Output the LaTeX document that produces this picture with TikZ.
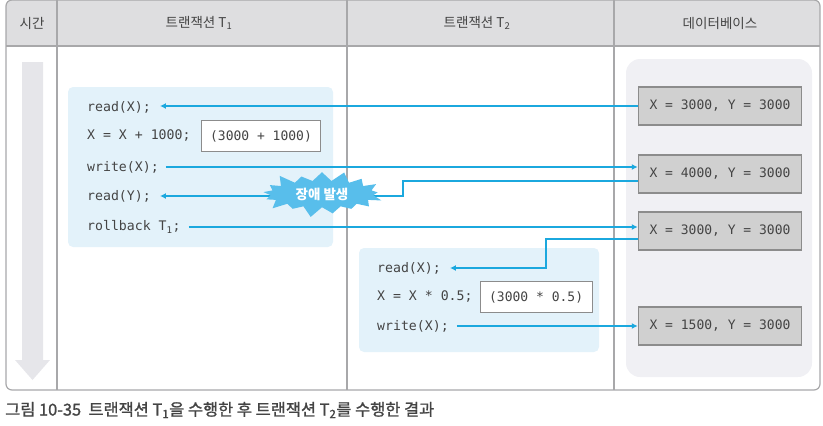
\documentclass[tikz,border=0pt]{standalone}
\usepackage{fontspec}
\setmainfont{Noto Sans CJK KR}
\newfontfamily\codefont{DejaVu Sans Mono}
\newfontfamily\capfont[FakeBold=1.2]{Noto Sans CJK KR}
\usetikzlibrary{arrows.meta,shapes.symbols,positioning}

\definecolor{flowblue}{RGB}{27,168,222}
\definecolor{burstblue}{RGB}{88,190,235}
\definecolor{paleblue}{RGB}{227,242,250}
\definecolor{headgray}{RGB}{222,222,224}
\definecolor{framegray}{RGB}{168,168,170}
\definecolor{dbback}{RGB}{240,240,244}
\definecolor{dbfill}{RGB}{208,208,208}
\definecolor{dbedge}{RGB}{140,140,140}
\definecolor{timegray}{RGB}{230,230,234}
\definecolor{codegray}{RGB}{68,68,68}

\begin{document}
\begin{tikzpicture}[x=1pt,y=-1pt,
		flow/.style = {draw=flowblue, line width=1.8pt, -{Latex[length=6pt,width=6pt]}},
		code/.style = {font=\codefont\fontsize{13.2}{15}\selectfont, text=codegray, anchor=west, inner sep=0pt},
		calcbox/.style = {draw=dbedge, fill=white, line width=0.8pt, minimum height=31pt, inner xsep=9pt,
			font=\codefont\fontsize{13}{15}\selectfont, text=codegray},
		dbcell/.style = {draw=dbedge, fill=dbfill, line width=1.5pt, minimum width=163pt, minimum height=38pt,
			font=\codefont\fontsize{13}{15}\selectfont, text=codegray},
		head/.style = {font=\fontsize{13.5}{15}\selectfont, text=codegray},
		burst/.style = {starburst, starburst points=17, starburst point height=12pt, fill=burstblue, draw=none,
			inner xsep=10pt, inner ysep=3pt, text=white, font=\bfseries\fontsize{13.5}{15}\selectfont}]
		
		\useasboundingbox (0,0) rectangle (823,426);
		
		% table frame and header
		\begin{scope}
			\clip[rounded corners=6pt] (6,0) rectangle (820,390);
			\fill[headgray] (6,0) rectangle (820,46);
		\end{scope}
		\draw[framegray, line width=1.2pt, rounded corners=6pt] (6,0) rectangle (820,390);
		\draw[framegray, line width=1.2pt] (6,46) -- (820,46);
		\foreach \cx in {57,347,614}
			\draw[framegray, line width=1.2pt] (\cx,0) -- (\cx,390);
		
		\node[head] (hTime) at (32,23) {시간};
		\node[head] (hT1) at (199,23) {트랜잭션 T\textsubscript{1}};
		\node[head] (hT2) at (477,23) {트랜잭션 T\textsubscript{2}};
		\node[head] (hDB) at (720,23) {데이터베이스};
		
		% time arrow
		\fill[timegray] (22,62) -- (43,62) -- (43,360) -- (50,360) -- (32.5,380) -- (15,360) -- (22,360) -- cycle;
		
		% backgrounds
		\fill[paleblue, rounded corners=5pt] (68,87) rectangle (333,247);
		\fill[paleblue, rounded corners=5pt] (359,248) rectangle (599,352);
		\fill[dbback, rounded corners=14pt] (626,59) rectangle (812,377);
		
		% transaction T1
		\node[code] (r1x) at (87,107) {read(X);};
		\node[code] (c1) at (87,136) {X = X + 1000;};
		\node[calcbox, right=10pt of c1] (calc1) {(3000 + 1000)};
		\node[code] (w1x) at (87,167) {write(X);};
		\node[code] (r1y) at (87,196) {read(Y);};
		\node[code] (rb1) at (87,227) {rollback T\textsubscript{1};};
		
		% transaction T2
		\node[code] (r2x) at (377,268) {read(X);};
		\node[code] (c2) at (377,297) {X = X * 0.5;};
		\node[calcbox, right=7pt of c2] (calc2) {(3000 * 0.5)};
		\node[code] (w2x) at (377,326) {write(X);};
		
		% database
		\node[dbcell] (db1) at (720,106) {X = 3000, Y = 3000};
		\node[dbcell] (db2) at (720,174) {X = 4000, Y = 3000};
		\node[dbcell] (db3) at (720,231) {X = 3000, Y = 3000};
		\node[dbcell] (db4) at (720,326) {X = 1500, Y = 3000};
		
		\draw[flow, shorten >=9pt] (db1.west) -- (db1.west -| r1x.east);
		\draw[flow, shorten <=7pt] (w1x.east) -- (w1x.east -| db2.west);
		\draw[flow, shorten >=9pt] ([yshift=-7pt]db2.west) -- ++(-235,0) |- (r1y.east);
		\draw[flow, shorten <=8pt] (rb1.east) -- (rb1.east -| db3.west);
		\draw[flow, shorten >=9pt] ([yshift=-8pt]db3.west) -- ++(-92,0) |- (r2x.east);
		\draw[flow, shorten <=8pt] (w2x.east) -- (w2x.east -| db4.west);
		
		\node[burst] (fail) at (322,194) {장애 발생};
		
		% caption
		\node[anchor=west, inner sep=0pt, text=codegray, font=\capfont\fontsize{16.4}{18}\selectfont] (cap) at (5,410)
			{그림 10-35\ \ 트랜잭션 T\textsubscript{1}을 수행한 후 트랜잭션 T\textsubscript{2}를 수행한 결과};
\end{tikzpicture}
\end{document}
